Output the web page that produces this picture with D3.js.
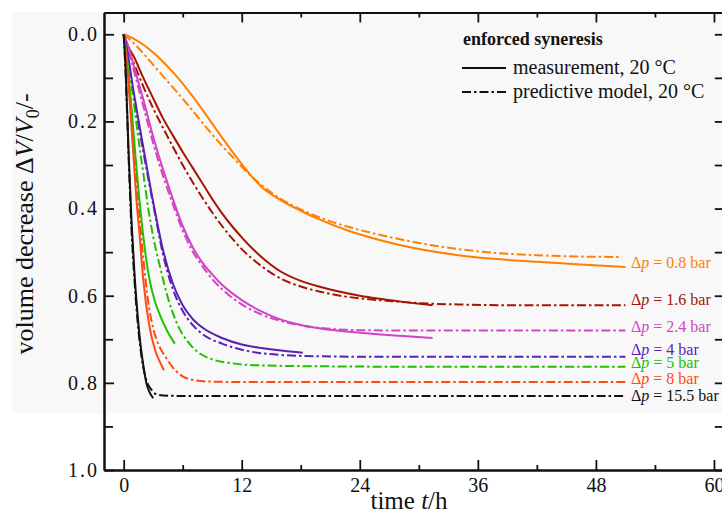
<!DOCTYPE html>
<html>
<head>
<meta charset="utf-8">
<script src="https://cdn.jsdelivr.net/npm/d3@7"></script>
<style>
  body { margin: 0; background: #fff; }
  text { font-family: "Liberation Serif", "Times New Roman", serif; fill: #111; }
</style>
</head>
<body>
<svg id="chart" width="722" height="515"></svg>
<script>
// pressure levels and their colours
const pressures = ["0.8", "1.6", "2.4", "4", "5", "8", "15.5"];
const colors = ["#ff8000", "#a51400", "#d244c4", "#5a22b0", "#22c000", "#ff4a14", "#111111"];
// where each pressure label sits (volume decrease)
const labelValues = [0.525, 0.61, 0.672, 0.725, 0.755, 0.79, 0.83];

// measurement, [t in h, dV/V0]
const meas08 = [[0,0],[1,0.01],[2,0.024],[3,0.042],[4,0.063],[5,0.087],[6,0.113],[7,0.142],[8,0.173],[9,0.205],[10,0.237],[11,0.268],[12,0.298],[13,0.326],[14,0.35],[16,0.381],[18,0.405],[20,0.426],[23,0.452],[26,0.472],[30,0.493],[34,0.507],[38,0.516],[42,0.522],[46,0.528],[51,0.534]];
const meas16 = [[0,0],[0.5,0.03],[1,0.05],[2,0.1],[3,0.147],[4,0.193],[5,0.232],[6,0.27],[7,0.306],[8,0.342],[9,0.378],[10,0.411],[11,0.44],[12,0.466],[13,0.49],[14,0.511],[16,0.545],[18,0.566],[20,0.58],[22,0.591],[24,0.6],[26,0.607],[28,0.613],[31.4,0.622]];
const meas24 = [[0,0],[0.5,0.03],[1,0.07],[2,0.15],[3,0.235],[4,0.31],[5,0.378],[6,0.44],[7,0.488],[8,0.524],[9,0.551],[10,0.575],[12,0.61],[14,0.636],[16,0.655],[18,0.667],[20,0.675],[24,0.685],[28,0.692],[31.4,0.697]];
const meas4 = [[0,0],[0.3,0.03],[1,0.13],[2,0.26],[3,0.385],[4,0.495],[5,0.572],[6,0.622],[7,0.653],[8,0.673],[10,0.697],[12,0.712],[14,0.72],[16,0.726],[18.2,0.731]];
const meas5 = [[0,0],[0.3,0.05],[0.8,0.17],[1.2,0.28],[1.6,0.38],[2,0.465],[2.6,0.56],[3.2,0.615],[3.7,0.645],[4.4,0.68],[5.2,0.71]];
const meas8 = [[0,0],[0.3,0.06],[0.6,0.15],[1,0.28],[1.3,0.38],[1.6,0.456],[2,0.565],[2.6,0.668],[3.2,0.725],[3.7,0.753],[4.1,0.771]];
const meas155 = [[0,0],[0.2,0.08],[0.5,0.27],[0.8,0.43],[1.1,0.55],[1.4,0.64],[1.7,0.71],[2,0.76],[2.3,0.8],[2.6,0.82],[3,0.835]];

// predictive model
const model08 = [[0,0],[1,0.02],[2,0.044],[3,0.07],[4,0.096],[5,0.122],[6,0.148],[7,0.175],[8,0.203],[9,0.23],[10,0.256],[11,0.28],[12,0.304],[13,0.326],[14,0.346],[16,0.378],[18,0.402],[20,0.421],[23,0.443],[26,0.46],[30,0.479],[34,0.493],[38,0.502],[42,0.507],[46,0.51],[50.5,0.511]];
const model16 = [[0,0],[0.5,0.04],[1,0.065],[2,0.12],[3,0.17],[4,0.215],[5,0.258],[6,0.3],[7,0.339],[8,0.375],[9,0.409],[10,0.44],[11,0.468],[12,0.493],[13,0.514],[14,0.532],[16,0.561],[18,0.579],[20,0.591],[22,0.6],[24,0.606],[27,0.612],[30,0.617],[34,0.62],[40,0.622],[51,0.622]];
const model24 = [[0,0],[0.5,0.035],[1,0.08],[2,0.165],[3,0.25],[4,0.325],[5,0.39],[6,0.45],[7,0.498],[8,0.532],[9,0.562],[10,0.585],[12,0.62],[14,0.643],[16,0.658],[18,0.668],[20,0.674],[24,0.679],[30,0.68],[51,0.68]];
const model4 = [[0,0],[0.3,0.035],[1,0.14],[2,0.27],[3,0.39],[4,0.505],[5,0.585],[6,0.635],[7,0.667],[8,0.688],[10,0.71],[12,0.724],[14,0.732],[16,0.736],[20,0.739],[25,0.74],[51,0.74]];
const model5 = [[0,0],[0.3,0.04],[1,0.15],[1.5,0.24],[2,0.32],[2.5,0.4],[3,0.465],[3.7,0.534],[4.5,0.605],[5.4,0.663],[6.5,0.705],[7.7,0.732],[9,0.746],[11,0.755],[14,0.76],[20,0.762],[30,0.763],[51,0.763]];
const model8 = [[0,0],[0.3,0.05],[0.7,0.16],[1.1,0.28],[1.5,0.39],[2,0.515],[2.5,0.615],[3,0.675],[3.6,0.715],[4.3,0.742],[5,0.765],[6,0.785],[7,0.793],[8.7,0.797],[12,0.798],[51,0.798]];
const model155 = [[0,0],[0.2,0.09],[0.5,0.28],[0.8,0.45],[1.1,0.565],[1.4,0.655],[1.7,0.72],[2,0.765],[2.4,0.8],[2.8,0.815],[3.3,0.826],[4,0.829],[6,0.83],[51,0.83]];

const measurements = [meas08, meas16, meas24, meas4, meas5, meas8, meas155];
const models = [model08, model16, model24, model4, model5, model8, model155];

// axis ticks
const xTicks = [0, 12, 24, 36, 48, 60];
const xMinor = [6, 18, 30, 42, 54];
const yTicks = [0, 0.2, 0.4, 0.6, 0.8, 1.0];
const yMinor = [0.1, 0.3, 0.5, 0.7, 0.9];

const svg = d3.select('#chart');
const dashDot = '9,3,2.5,3';

// light grey page panel
svg.append('rect')
    .attr('x', 12).attr('y', 12)
    .attr('width', 710).attr('height', 401)
    .attr('fill', '#f8f8f8');

const x = d3.scaleLinear().domain([-2, 61]).range([104, 723.8]);
const y = d3.scaleLinear().domain([-0.05, 1.0]).range([12.5, 470]);

// axes (ticks point inward)
function styleAxis(g) {
    g.selectAll('.domain').attr('stroke', '#111').attr('stroke-width', 2);
    g.selectAll('.tick line').attr('stroke', '#111').attr('stroke-width', 1.8);
    g.selectAll('text').attr('fill', '#111')
        .style('font-family', '"Liberation Serif", "Times New Roman", serif')
        .style('font-size', '20px');
}

svg.append('g')
    .attr('transform', `translate(0,${y(1.0)})`)
    .call(d3.axisBottom(x).tickValues(xTicks).tickSizeInner(-10).tickSizeOuter(0).tickPadding(8))
    .call(styleAxis);
svg.append('g')
    .attr('transform', `translate(0,${y(1.0)})`)
    .call(d3.axisBottom(x).tickValues(xMinor).tickSizeInner(-5).tickSizeOuter(0).tickFormat(''))
    .call(styleAxis);
svg.append('g')
    .attr('transform', `translate(0,${y(-0.05)})`)
    .call(d3.axisTop(x).tickValues(xTicks).tickSizeInner(-10).tickSizeOuter(0).tickFormat(''))
    .call(styleAxis);
svg.append('g')
    .attr('transform', `translate(0,${y(-0.05)})`)
    .call(d3.axisTop(x).tickValues(xMinor).tickSizeInner(-5).tickSizeOuter(0).tickFormat(''))
    .call(styleAxis);

svg.append('g')
    .attr('transform', `translate(${x(-2)},0)`)
    .call(d3.axisLeft(y).tickValues(yTicks).tickSizeInner(-10).tickSizeOuter(0).tickPadding(5).tickFormat(d3.format('.1f')))
    .call(styleAxis)
    .selectAll('text').style('letter-spacing', '2px');
svg.append('g')
    .attr('transform', `translate(${x(-2)},0)`)
    .call(d3.axisLeft(y).tickValues(yMinor).tickSizeInner(-9).tickSizeOuter(0).tickFormat(''))
    .call(styleAxis);
svg.append('g')
    .attr('transform', `translate(${x(61)},0)`)
    .call(d3.axisRight(y).tickValues(yTicks.concat(yMinor)).tickSizeInner(-9).tickSizeOuter(0).tickFormat(''))
    .call(styleAxis);

// axis titles
const xTitle = svg.append('text')
    .attr('x', 409).attr('y', 509)
    .attr('text-anchor', 'middle')
    .style('font-size', '25px');
xTitle.append('tspan').text('time ');
xTitle.append('tspan').style('font-style', 'italic').text('t');
xTitle.append('tspan').text('/h');

const yTitle = svg.append('text')
    .attr('transform', 'translate(33,224) rotate(-90)')
    .attr('text-anchor', 'middle')
    .style('font-size', '26px');
yTitle.append('tspan').text('volume decrease \u0394');
yTitle.append('tspan').style('font-style', 'italic').text('V');
yTitle.append('tspan').text('/');
yTitle.append('tspan').style('font-style', 'italic').text('V');
yTitle.append('tspan').attr('dy', 6).style('font-size', '18px').text('0');
yTitle.append('tspan').attr('dy', -6).text('/-');

// curves
const line = d3.line()
    .x(d => x(d[0]))
    .y(d => y(d[1]))
    .curve(d3.curveMonotoneX);

const curves = svg.append('g').attr('fill', 'none').attr('stroke-width', 2);

models.forEach((data, i) => {
    curves.append('path')
        .datum(data)
        .attr('d', line)
        .attr('stroke', colors[i])
        .attr('stroke-dasharray', dashDot);
});
measurements.forEach((data, i) => {
    curves.append('path')
        .datum(data)
        .attr('d', line)
        .attr('stroke', colors[i]);
});

// pressure labels
pressures.forEach((p, i) => {
    const t = svg.append('text')
        .attr('x', 631)
        .attr('y', y(labelValues[i]) + 5)
        .style('font-size', '16px')
        .style('fill', colors[i]);
    t.append('tspan').text('\u0394');
    t.append('tspan').style('font-style', 'italic').text('p');
    t.append('tspan').text(' = ' + p + ' bar');
});

// legend
svg.append('text')
    .attr('x', 463).attr('y', 45)
    .style('font-size', '18px')
    .style('font-weight', 'bold')
    .text('enforced syneresis');

svg.append('line')
    .attr('x1', 462).attr('x2', 506).attr('y1', 68).attr('y2', 68)
    .attr('stroke', '#111').attr('stroke-width', 2);
svg.append('text')
    .attr('x', 513).attr('y', 74)
    .style('font-size', '20px')
    .text('measurement, 20 \u00b0C');

svg.append('line')
    .attr('x1', 462).attr('x2', 506).attr('y1', 92).attr('y2', 92)
    .attr('stroke', '#111').attr('stroke-width', 2)
    .attr('stroke-dasharray', dashDot);
svg.append('text')
    .attr('x', 513).attr('y', 98)
    .style('font-size', '20px')
    .text('predictive model, 20 \u00b0C');
</script>
</body>
</html>
